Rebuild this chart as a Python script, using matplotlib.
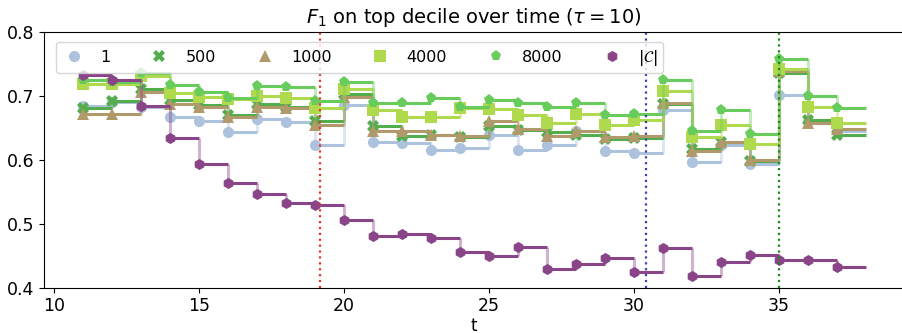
import matplotlib
matplotlib.use("Agg")
import matplotlib.pyplot as plt
from matplotlib.lines import Line2D
import numpy as np

t = np.arange(11, 38)

# F1 values per budget
f1_1 = [0.684, 0.690, 0.683, 0.667, 0.660, 0.644, 0.663, 0.659, 0.623, 0.685,
        0.628, 0.626, 0.615, 0.618, 0.639, 0.615, 0.623, 0.645, 0.614, 0.610,
        0.677, 0.597, 0.623, 0.594, 0.701, 0.660, 0.645]
f1_500 = [0.680, 0.691, 0.711, 0.693, 0.685, 0.670, 0.687, 0.683, 0.661, 0.703,
          0.652, 0.637, 0.639, 0.636, 0.652, 0.646, 0.644, 0.639, 0.632, 0.634,
          0.687, 0.616, 0.628, 0.598, 0.735, 0.662, 0.638]
f1_1000 = [0.672, 0.672, 0.705, 0.687, 0.683, 0.667, 0.683, 0.680, 0.654, 0.698,
           0.645, 0.645, 0.639, 0.637, 0.660, 0.648, 0.637, 0.645, 0.635, 0.637,
           0.688, 0.614, 0.628, 0.600, 0.738, 0.657, 0.648]
f1_4000 = [0.718, 0.718, 0.730, 0.704, 0.698, 0.695, 0.699, 0.697, 0.681, 0.710,
           0.677, 0.666, 0.666, 0.680, 0.679, 0.670, 0.658, 0.672, 0.654, 0.662,
           0.708, 0.635, 0.654, 0.625, 0.741, 0.682, 0.658]
f1_8000 = [0.724, 0.722, 0.735, 0.717, 0.706, 0.697, 0.715, 0.713, 0.691, 0.722,
           0.689, 0.689, 0.697, 0.682, 0.693, 0.688, 0.683, 0.688, 0.670, 0.672,
           0.724, 0.645, 0.678, 0.640, 0.757, 0.699, 0.680]
f1_C = [0.733, 0.725, 0.684, 0.634, 0.594, 0.564, 0.547, 0.532, 0.529, 0.506,
        0.480, 0.484, 0.477, 0.456, 0.450, 0.464, 0.429, 0.437, 0.447, 0.425,
        0.462, 0.418, 0.440, 0.451, 0.443, 0.443, 0.432]

labels = ["1", "500", "1000", "4000", "8000", r"$|\mathcal{C}|$"]
series = [f1_1, f1_500, f1_1000, f1_4000, f1_8000, f1_C]
colors = ["#adc2dc", "#52ad4d", "#b2996b", "#b0da4e", "#68cc5c", "#8a4589"]
markers = ["o", "X", "^", "s", "p", "h"]

vline_x = [19.16, 30.43, 35.0]
vline_c = ["#e8322a", "#3a44a8", "#1a8a1a"]

fig = plt.figure(figsize=(9.03, 3.33), dpi=100)
ax = fig.add_axes([0.0487, 0.136, 0.9513, 0.769])

for ys, c, m in zip(series, colors, markers):
    ys = np.asarray(ys)
    # horizontal steps
    ax.hlines(ys, t, t + 1, colors=c, lw=2.2)
    # faint vertical connectors
    ax.vlines(t[1:], ys[:-1], ys[1:], colors=c, lw=2.2, alpha=0.4)
    ax.plot(t, ys, linestyle="none", marker=m, color=c, markersize=8,
            markeredgewidth=0)

for x, c in zip(vline_x, vline_c):
    ax.axvline(x, color=c, ls=":", lw=1.6)

ax.set_xlim(9.65, 39.28)
ax.set_ylim(0.4, 0.8)
ax.set_xticks([10, 15, 20, 25, 30, 35])
ax.set_yticks([0.4, 0.5, 0.6, 0.7, 0.8])
ax.tick_params(labelsize=12.5)
ax.spines["right"].set_visible(False)
ax.set_xlabel("t", labelpad=1, fontsize=12)
ax.set_title(r"$F_1$ on top decile over time ($\tau = 10$)", fontsize=14, pad=6)

handles = [Line2D([], [], linestyle="none", marker=m, color=c, markersize=8,
                  markeredgewidth=0) for c, m in zip(colors, markers)]
ax.legend(handles, labels, ncol=6, loc="upper left", bbox_to_anchor=(0.005, 0.99),
          fontsize=11.5, columnspacing=2.3, handletextpad=0.9, handlelength=1.5,
          borderpad=0.35, framealpha=0.8)

fig.savefig("out.png", dpi=100)
